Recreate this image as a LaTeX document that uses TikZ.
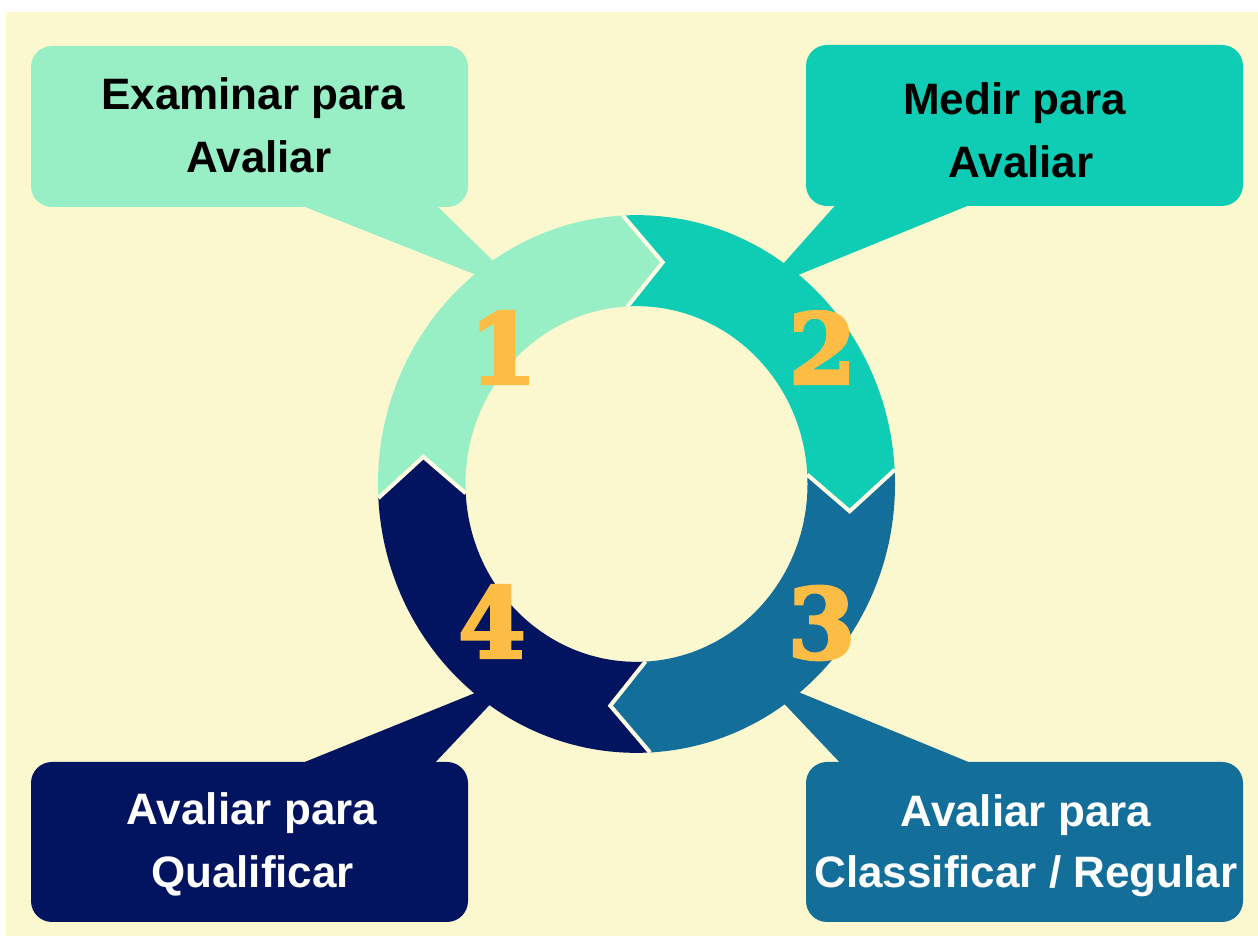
\documentclass[tikz,border=0pt]{standalone}
\usepackage{fontspec}
\setmainfont{Liberation Sans}
\newfontfamily\numfont[FakeBold=3.5]{DejaVu Serif Bold}
\definecolor{bgcream}{HTML}{FBF8CF}
\definecolor{cone}{HTML}{99EFC5}
\definecolor{ctwo}{HTML}{0FCDB4}
\definecolor{cthree}{HTML}{136F9A}
\definecolor{cfour}{HTML}{02135F}
\definecolor{cnum}{HTML}{FDBD45}
\definecolor{cgap}{HTML}{FFFDE6}
\begin{document}
\begin{tikzpicture}[x=1pt,y=1pt,
  callout/.style={rounded corners=21pt, minimum width=437pt, inner sep=0pt, draw=none},
  label/.style={anchor=base, inner sep=0pt, font=\fontsize{44}{62}\selectfont\bfseries},
  digit/.style={inner sep=0pt, text=cnum, font=\numfont\fontsize{97}{97}\selectfont},
  gapline/.style={draw=cgap, line width=4pt}]
\useasboundingbox (0,0) rectangle (1258,936);
\fill[white] (0,0) rectangle (1258,936);
\fill[bgcream] (6,0) rectangle (1258,924);

% callout boxes
\node[callout, fill=cone, minimum height=161pt] (b1) at (249.5,809.5) {};
\node[callout, fill=ctwo, minimum height=161pt] (b2) at (1024.5,810.5) {};
\node[callout, fill=cthree, minimum height=160pt] (b3) at (1024.5,94) {};
\node[callout, fill=cfour, minimum height=160pt] (b4) at (249.5,94) {};

% pointers
\fill[cone] (290,735) -- (528.6,640.3) -- (432,735) -- cycle;
\fill[ctwo] (840,736) -- (759,645) -- (982,736) -- cycle;
\fill[cthree] (845,168) -- (757,261) -- (983,168) -- cycle;
\fill[cfour] (290,168) -- (517,260) -- (430,168) -- cycle;

% ring
\begin{scope}[shift={(636.5,452)}, yscale=1.04]
\foreach \a/\c in {183/cone,93/ctwo,3/cthree,-87/cfour}{
  \fill[\c] (\a:258.5pt) arc[start angle=\a, end angle=\a-90, radius=258.5pt]
    -- ({\a-100}:214.75pt) -- ({\a-90}:171pt)
    arc[start angle=\a-90, end angle=\a, radius=171pt]
    -- ({\a-10}:214.75pt) -- cycle;
}
\foreach \a in {183,93,3,-87}{
  \draw[gapline] (\a:258.5pt) -- ({\a-10}:214.75pt) -- (\a:171pt);
}
\end{scope}

% numbers
\node[digit] (n1) at (503,588.5) {1};
\node[digit] (n2) at (822.5,588.5) {2};
\node[digit] (n3) at (821.5,313) {3};
\node[digit] (n4) at (492,314.5) {4};

% texts
\node[label] (t1a) at (253,826) {Examinar para};
\node[label] (t1b) at (259,763) {Avaliar};
\node[label] (t2a) at (1014.5,821) {Medir para};
\node[label] (t2b) at (1021,758) {Avaliar};
\node[label, text=white] (t3a) at (1026,109) {Avaliar para};
\node[label, text=white] (t3b) at (1026,48) {Classificar / Regular};
\node[label, text=white] (t4a) at (252,111) {Avaliar para};
\node[label, text=white] (t4b) at (252.5,48) {Qualificar};
\end{tikzpicture}
\end{document}
